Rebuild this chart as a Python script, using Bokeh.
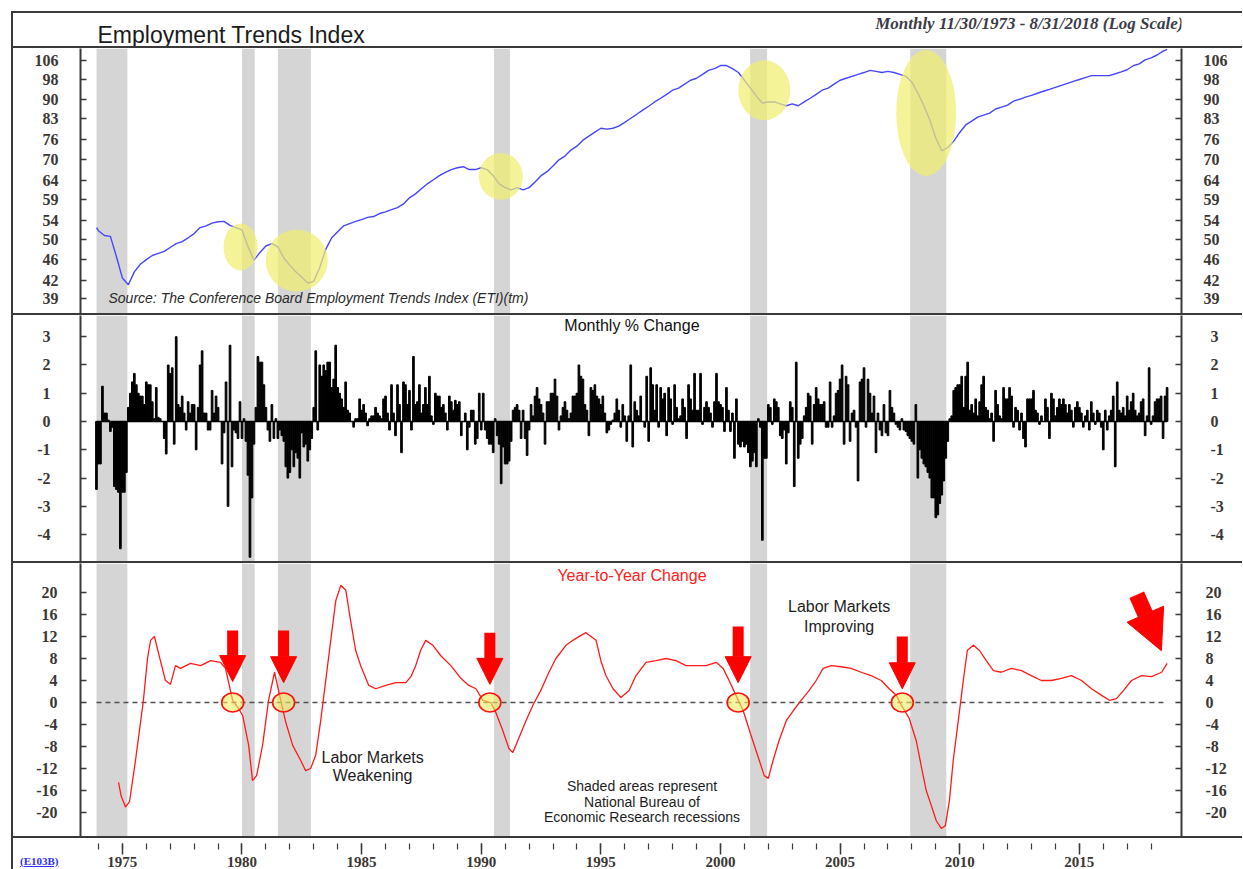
from bokeh.plotting import figure
from bokeh.models import (Range1d, FixedTicker, PrintfTickFormatter, LinearAxis, LogAxis,
                          BoxAnnotation, Label, Arrow, NormalHead, Div, Spacer)
from bokeh.layouts import column, row
from bokeh.embed import file_html
from bokeh.resources import INLINE

# ------------------------------------------------------------------ data
START = 1973 + 11 / 12          # 11/30/1973 (monthly, month-end)

# Monthly % change (Nov 1973 .. Aug 2018)
mchg_1970s = [-2.4, -1.5,
              -1.5, 1.25, 0.3, 0.3, 0.05, -0.35, -0.2, -2.3, -2.4, -2.5, -4.5, -2.5,
              -2.5, -1.8, 0.5, 1.0, 1.4, 1.7, 1.3, 1.0, 0.9, 0.9, 0.6, 1.4,
              1.3, 1.3, 0.7, 0.1, 1.2, 0.15, 0.1, 0.0, -0.6, -1.15, 2.0, 1.7,
              1.9, -0.8, 3.0, 0.6, 0.5, 0.9, 0.3, -0.3, 0.7, 0.3, 0.6, 0.6,
              -1.0, 0.5, 2.0, 2.5, 0.3, 0.3, -0.3, -0.3, 1.1, 0.3, 0.9, 0.5,
              0.0, -1.5, -0.4, 1.4, -3.0, 2.7, -1.6, -0.3, -0.4, -0.6, 0.7, -0.6]
mchg_1980s = [0.1, -0.7, -1.9, -4.8, -2.7, -0.8, 0.5, 2.3, 2.1, 2.1, 1.3, 0.5,
              -0.3, -0.7, 0.6, -0.6, 0.1, -0.6, -0.3, -0.5, -0.7, -1.6, -2.0, -1.8,
              -1.0, -1.6, -1.1, -1.3, -2.0, -0.4, -0.9, -0.8, -1.4, -1.0, -0.6, 0.5,
              2.5, -0.3, 2.0, 1.6, 2.0, 1.8, 2.1, 2.1, 1.2, 1.5, 2.7, 1.2,
              1.0, 0.8, 0.5, 1.4, 0.4, 0.3, 0.0, -0.2, 0.1, 0.1, 0.8, 0.4,
              0.6, 0.3, -0.15, 0.1, 0.2, 0.2, 0.5, 0.3, 0.2, 0.1, 0.8, 0.9,
              0.3, -0.3, 1.3, 0.3, -0.5, 1.3, 0.6, -1.1, 1.4, 1.3, 0.6, 1.1,
              -0.3, 2.3, 0.6, 0.7, 1.3, 0.3, 0.6, 1.2, 0.6, 1.6, 0.2, -0.1,
              1.0, 0.9, 0.9, 0.5, 0.6, 0.3, -0.3, 0.9, 0.7, 0.4, 0.75, 0.6,
              0.7, -0.5, 0.0, 0.3, -1.0, -0.2, 0.4, 0.4, -0.8, -0.6, 1.0, -0.3]
mchg_1990s = [1.0, -0.3, -0.6, -0.8, -0.8, -1.1, 0.1, -0.5, -0.8, -2.2, -0.9, -1.5,
              -1.5, -1.4, -0.7, 0.4, 0.5, 0.6, 0.4, -0.6, 0.4, -0.6, -1.2, -0.3,
              0.6, 0.2, 0.9, 1.2, 0.8, 0.6, 0.3, -0.8, 0.7, 0.7, 1.0, 1.0,
              1.5, 0.9, -0.3, 0.2, 0.5, 0.7, 0.4, 0.1, 0.3, 0.9, 0.9, 1.0,
              2.0, 1.6, 1.5, 0.6, 0.4, -0.5, 1.2, 1.1, 1.3, 0.9, 0.8, 0.6,
              0.9, 0.3, -0.4, -0.3, -0.1, 0.05, 0.3, 0.8, 0.4, -0.2, 0.6, 0.2,
              -0.7, 0.2, 2.0, -0.9, 0.7, 0.4, 0.2, 0.9, 0.0, -0.2, 1.6, -0.7,
              1.9, 1.3, 0.4, 1.3, -0.2, 1.2, 0.8, 1.0, -0.5, 1.2, 0.8, -0.1,
              1.3, 0.5, 0.1, 0.2, 0.8, 0.5, -0.6, 1.3, 0.8, 0.4, 1.7, 0.4,
              0.4, 1.7, -0.1, 0.5, 0.7, 0.5, 0.3, -0.2, 0.7, 1.7, 0.7, 0.6]
mchg_2000s = [0.5, -0.35, 1.2, 0.4, -0.35, 0.3, -1.3, 0.8, -0.8, -0.9, -0.7, -0.9,
              -0.8, -1.1, -1.6, -1.4, -1.1, -1.6, 0.1, -0.2, -4.2, -1.3, -1.3, 0.6,
              0.5, -0.1, 0.8, 0.7, 0.5, -0.5, -0.6, -0.3, -1.5, -0.4, 0.7, 0.5,
              -2.3, 2.1, -1.3, -0.8, -0.6, 0.2, 0.5, 1.0, 0.9, -0.8, 0.6, 1.2,
              0.8, 0.6, 0.6, 0.7, -0.2, -0.2, 1.4, -0.2, 0.2, 1.0, 1.1, 1.5,
              2.0, -0.8, 1.6, 1.3, -0.7, 0.3, 0.4, -0.2, -2.1, 1.4, 1.5, 1.9,
              -0.2, 1.5, 1.0, 0.3, 0.9, -1.1, 0.3, -0.3, -0.5, 0.6, -0.4, -0.5,
              1.1, 0.5, 0.3, -0.1, -0.2, -0.3, 0.1, -0.3, -0.35, -0.5, -0.6, -0.7,
              -0.8, 0.6, -2.0, -1.0, -1.3, -1.5, -1.6, -1.8, -2.0, -2.7, -2.7, -3.4,
              -3.3, -2.9, -2.6, -2.1, -1.3, -0.7, 0.1, 0.2, 1.1, 1.2, 1.3, 1.3]
mchg_2010s = [1.6, 0.5, 1.6, 2.1, 0.4, 0.6, 0.3, 0.8, 0.2, 0.7, 1.3, 1.6,
              0.5, 0.4, 0.1, 0.3, -0.7, 1.1, 0.6, 0.2, 0.1, 1.2, 0.8, 0.8,
              1.2, 0.9, -0.2, 0.5, 0.4, -0.3, 0.3, -0.6, -0.9, 0.8, 0.8, 0.8,
              1.1, 0.4, 0.3, -0.1, 0.2, 0.0, 0.8, 0.5, -0.6, 1.0, 0.8, 0.2,
              0.5, 0.8, 0.6, 0.8, 0.6, 0.3, 0.6, 0.4, -0.2, 0.5, 0.7, 0.5,
              0.3, -0.2, 0.2, 0.4, -0.3, 0.7, 0.3, -0.1, 0.4, 0.3, -0.2, -1.0,
              0.4, -0.3, 0.2, 0.4, 0.9, -1.6, 1.4, 0.4, 0.3, 0.5, 0.2, 0.9,
              0.4, 0.7, 1.0, 0.4, 0.2, 0.3, 0.7, 0.8, -0.5, 0.2, 1.9, -0.1,
              0.2, 0.7, 0.8, 0.8, 0.9, -0.6, 0.9, 1.2]

# Employment Trends Index level (quarterly readings; first point 11/1973, last 8/2018)
eti_1970s = [52.5,
             51.8, 50.8, 50.6, 46.5, 42.5, 41.3, 43.6, 45.0, 45.9, 46.7, 47.1, 47.5,
             48.3, 49.1, 49.5, 50.3, 51.2, 52.5, 52.9, 53.5, 53.8, 53.9, 53.0, 52.5]
eti_1980s = [52.0, 48.5, 45.8, 47.3, 48.6, 49.1, 48.4, 46.2, 44.8, 43.6, 42.6, 41.6,
             41.9, 44.4, 47.9, 50.3, 51.6, 52.9, 53.4, 53.9, 54.3, 54.8, 55.0, 55.7,
             56.1, 56.6, 57.1, 58.0, 59.5, 60.5, 61.8, 63.1, 64.2, 65.3, 66.2, 67.0,
             67.5, 67.8, 67.0, 67.0]
eti_1990s = [67.5, 67.0, 65.3, 63.1, 62.1, 61.5, 62.1, 61.5, 62.1, 63.6, 65.3, 66.4,
             68.0, 69.8, 70.9, 72.7, 73.9, 75.8, 77.1, 78.4, 79.7, 79.4, 79.7, 80.4,
             81.7, 83.1, 84.5, 86.0, 87.4, 89.0, 90.4, 91.9, 93.5, 94.3, 95.9, 97.5,
             98.3, 99.9, 101.6, 102.4]
eti_2000s = [103.7, 103.7, 102.4, 100.7, 97.5, 94.3, 91.2, 88.6, 89.0, 89.0, 88.3, 87.6,
             88.3, 87.6, 89.0, 90.4, 91.9, 93.5, 94.3, 95.9, 97.5, 98.3, 99.1, 99.9,
             100.7, 101.6, 101.2, 100.7, 101.2, 100.7, 99.9, 99.1, 96.7, 92.4, 87.6, 82.5,
             76.5, 72.5, 73.5, 75.5]
eti_2010s = [78.3, 80.8, 82.1, 83.5, 84.2, 84.9, 86.4, 87.1, 87.8, 89.3, 90.0, 90.8,
             91.5, 92.3, 93.1, 93.8, 94.6, 95.4, 96.2, 97.0, 97.8, 98.6, 99.4, 99.4,
             99.4, 99.4, 100.2, 101.0, 101.9, 103.6, 104.4, 106.2, 107.1, 108.4, 110.2,
             111.0]

# Year-to-year % change (date, value) readings
yoy_t_1970s = [1974.84, 1974.95, 1975.13, 1975.30, 1975.55, 1975.88, 1976.05, 1976.18, 1976.34,
               1976.59, 1976.80, 1977.01, 1977.22, 1977.43, 1977.85, 1978.27, 1978.69, 1979.10,
               1979.31, 1979.61, 1979.86]
yoy_v_1970s = [-14.5, -17.0, -19.0, -18.0, -10.5, 0.4, 8.0, 11.3, 12.0,
               7.6, 4.0, 3.3, 6.7, 6.2, 7.1, 6.7, 7.6, 7.3,
               6.2, 0.4, -1.1]
yoy_t_1980s = [1980.03, 1980.28, 1980.44, 1980.61, 1980.86, 1981.11, 1981.36, 1981.62, 1981.83,
               1982.12, 1982.45, 1982.66, 1982.87, 1983.08, 1983.29, 1983.50, 1983.71, 1983.92,
               1984.13, 1984.34, 1984.54, 1984.75, 1984.96, 1985.30, 1985.59, 1986.01, 1986.43,
               1986.85, 1987.06, 1987.26, 1987.47, 1987.68, 1987.98, 1988.31, 1988.73, 1989.15,
               1989.48, 1989.78]
yoy_v_1980s = [-2.4, -7.8, -14.2, -13.3, -7.8, 0.4, 5.5, 0.4, -3.6,
               -7.8, -10.5, -12.4, -12.0, -9.6, -3.3, 4.0, 11.3, 18.5,
               21.3, 20.4, 14.9, 9.5, 6.7, 3.1, 2.5, 3.1, 3.6,
               3.6, 4.7, 6.7, 9.5, 11.3, 10.4, 8.5, 6.7, 4.4,
               3.1, 2.5]
yoy_t_1990s = [1990.07, 1990.40, 1990.61, 1990.90, 1991.16, 1991.32, 1991.57, 1991.87, 1992.16,
               1992.49, 1992.83, 1993.12, 1993.54, 1993.83, 1994.17, 1994.38, 1994.80, 1995.00,
               1995.21, 1995.51, 1995.84, 1996.18, 1996.47, 1996.89, 1997.31, 1997.73, 1998.14,
               1998.56, 1998.98, 1999.40, 1999.82]
yoy_v_1990s = [0.4, 0.0, -1.8, -5.1, -8.4, -9.1, -6.5, -3.3, -0.5,
               2.2, 5.5, 8.0, 10.4, 11.3, 12.2, 12.7, 11.3, 7.6,
               4.9, 2.5, 0.9, 2.2, 4.9, 7.3, 7.6, 8.0, 7.6,
               6.7, 6.7, 6.7, 7.3]
yoy_t_2000s = [2000.11, 2000.36, 2000.65, 2000.95, 2001.28, 2001.62, 2001.83, 2002.00, 2002.20,
               2002.45, 2002.75, 2003.04, 2003.37, 2003.71, 2004.00, 2004.29, 2004.63, 2005.05,
               2005.46, 2005.88, 2006.30, 2006.72, 2007.05, 2007.35, 2007.56, 2007.89, 2008.18,
               2008.39, 2008.60, 2008.81, 2009.02, 2009.23, 2009.40, 2009.57, 2009.73, 2009.94]
yoy_v_2000s = [6.2, 4.0, 1.3, -1.5, -6.0, -10.5, -13.3, -13.8, -10.5,
               -6.9, -3.3, -1.5, 0.4, 2.2, 4.0, 6.2, 6.7, 6.5,
               6.2, 5.5, 4.9, 4.0, 2.5, 1.3, -0.5, -2.9, -6.9,
               -11.5, -16.0, -18.7, -21.5, -22.9, -22.4, -17.8, -10.5, -3.3]
yoy_t_2010s = [2010.15, 2010.32, 2010.57, 2010.82, 2011.11, 2011.41, 2011.74, 2012.16, 2012.58,
               2012.99, 2013.41, 2013.83, 2014.25, 2014.67, 2015.09, 2015.51, 2015.93, 2016.26,
               2016.55, 2016.85, 2017.18, 2017.60, 2018.02, 2018.44, 2018.67]
yoy_v_2010s = [4.0, 9.5, 10.4, 9.5, 7.6, 5.8, 5.5, 6.2, 5.8,
               4.9, 4.0, 4.0, 4.4, 4.9, 4.0, 2.5, 1.3, 0.4,
               0.7, 2.2, 4.0, 4.9, 4.7, 5.5, 7.1]

# NBER recessions
rec_start = [1973.92, 1980.0, 1981.5, 1990.53, 2001.24, 2007.93]
rec_end = [1975.21, 1980.53, 1982.88, 1991.2, 2001.95, 2009.44]

# tick labels
eti_ticks = [39, 42, 46, 50, 54, 59, 64, 70, 76, 83, 90, 98, 106]
chg_ticks = [-4, -3, -2, -1, 0, 1, 2, 3]
yoy_ticks = [-20, -16, -12, -8, -4, 0, 4, 8, 12, 16, 20]
year_ticks = [1975, 1980, 1985, 1990, 1995, 2000, 2005, 2010, 2015]
year_minor = list(range(1974, 2019))

# highlight annotations
hl_x = [1979.94, 1982.29, 1990.82, 2001.83, 2008.6]
hl_y = [48.4, 45.7, 65.1, 93.5, 85.0]
turn_x = [1979.61, 1981.74, 1990.36, 2000.74, 2007.60]
arrow_from = [13.1, 13.1, 12.7, 13.8, 12.0]
arrow_to = [3.8, 3.6, 3.3, 3.6, 2.5]

# ------------------------------------------------------------------ derived
monthly_change = mchg_1970s + mchg_1980s + mchg_1990s + mchg_2000s + mchg_2010s
bar_dates = [START + i / 12 for i in range(len(monthly_change))]
eti_values = eti_1970s + eti_1980s + eti_1990s + eti_2000s + eti_2010s
eti_dates = [1973.92] + [y + q / 4 for y in range(1974, 2019) for q in range(4)
                         if y + q / 4 <= 2018.5] + [2018.67]
n = min(len(eti_dates), len(eti_values))
eti_dates, eti_values = eti_dates[:n], eti_values[:n]
yoy_dates = yoy_t_1970s + yoy_t_1980s + yoy_t_1990s + yoy_t_2000s + yoy_t_2010s
yoy_values = yoy_v_1970s + yoy_v_1980s + yoy_v_1990s + yoy_v_2000s + yoy_v_2010s

# ------------------------------------------------------------------ styling
W = 1229
LEFT_B, RIGHT_B = 67, 61
LINE_COL = "#3a3a3a"
LAB_COL = "#3b3734"
SERIF = "Liberation Serif"
SANS = "Liberation Sans"
xr = Range1d(1973.25, 2019.27)


def plain_fig(height, y_range, y_type="linear", width=W, left=LEFT_B):
    p = figure(width=width, height=height, x_range=xr, y_range=y_range, y_axis_type=y_type,
               x_axis_location=None, y_axis_location=None, title=None,
               toolbar_location=None, output_backend="svg",
               min_border_left=left, min_border_right=RIGHT_B, min_border_top=0,
               min_border_bottom=0)
    for g in p.grid:
        g.visible = False
    p.outline_line_color = None
    p.background_fill_color = "white"
    p.border_fill_color = "white"
    return p


def base_fig(height, y_range, y_type="linear"):
    p = plain_fig(height, y_range, y_type)
    for s, e in zip(rec_start, rec_end):
        p.add_layout(BoxAnnotation(left=s, right=e, fill_color="#d5d5d5", fill_alpha=1.0,
                                   line_color=None, level="underlay"))
    return p


def add_y_axes(p, ticks, log, so_left, so_right):
    cls = LogAxis if log else LinearAxis
    for side, so in (("left", so_left), ("right", so_right)):
        ax = cls(ticker=FixedTicker(ticks=ticks, minor_ticks=[]),
                 formatter=PrintfTickFormatter(format="%d"))
        ax.major_tick_in = 6
        ax.major_tick_out = 0
        ax.minor_tick_line_color = None
        ax.major_tick_line_color = LINE_COL
        ax.major_tick_line_width = 1.5
        ax.axis_line_color = LINE_COL
        ax.axis_line_width = 2
        ax.major_label_standoff = so
        ax.major_label_text_font = SERIF
        ax.major_label_text_font_style = "bold"
        ax.major_label_text_font_size = "16px"
        ax.major_label_text_color = LAB_COL
        p.add_layout(ax, side)


def label(p, x, y, text, size="16px", color="#1e1e1e", style="normal", align="center",
          font=SANS, units="data"):
    p.add_layout(Label(x=x, y=y, x_units=units, y_units=units, text=text,
                       text_font=font, text_font_size=size, text_color=color,
                       text_font_style=style, text_align=align, text_baseline="middle"))


# ---- title row (frame-aligned with the panels below)
tfig = plain_fig(33, Range1d(0, 1))
label(tfig, 17, 12, "Employment Trends Index", size="23px", color="#1b1b1b",
      align="left", units="screen")
label(tfig, 1103, 23, "Monthly 11/30/1973 - 8/31/2018 (Log Scale)", size="17px",
      color="#3c3c48", style="bold italic", align="right", font=SERIF, units="screen")

# ---- top panel : index level (log)
top = base_fig(265, Range1d(36.6, 111.4), y_type="log")
add_y_axes(top, eti_ticks, True, 22, 22)
top.line(eti_dates, eti_values, line_color="#4646ff", line_width=1.4)
top.ellipse(x=hl_x, y=hl_y, width=[34, 62, 44, 52, 60], height=[47, 62, 47, 60, 126],
            width_units="screen", height_units="screen",
            fill_color="#f0ee70", fill_alpha=0.72, line_color=None)
label(top, 1974.42, 39.1, "Source: The Conference Board Employment Trends Index (ETI)(tm)",
      size="14px", color="#2b2b2b", style="italic", align="left")

# ---- middle panel : monthly % change
mid = base_fig(246, Range1d(-4.95, 3.75))
add_y_axes(mid, chg_ticks, False, 30, 29)
mid.vbar(x=bar_dates, top=monthly_change, width=0.07, color="black")
mid.line([bar_dates[0], bar_dates[-1]], [0, 0], line_color="black", line_width=1.5)
label(mid, 1996.3, 3.39, "Monthly % Change", size="16px", color="#111111")

# ---- bottom panel : year-to-year change
bot = base_fig(273, Range1d(-24.36, 25.27))
add_y_axes(bot, yoy_ticks, False, 23, 24)
bot.line([bar_dates[0], bar_dates[-1]], [0, 0], line_color="#505050", line_width=1.4,
         line_dash="5 4")
bot.line(yoy_dates, yoy_values, line_color="#ff1a1a", line_width=1.3)
bot.ellipse(x=turn_x, y=[0] * len(turn_x), width=22, height=19,
            width_units="screen", height_units="screen",
            fill_color="#f2ee60", fill_alpha=0.6, line_color="#ff1010", line_width=1.6)
for x, y0, y1 in zip(turn_x, arrow_from, arrow_to):
    bot.add_layout(Arrow(end=NormalHead(size=26, fill_color="#ff0000", line_color="#ff0000",
                                        line_width=1),
                         x_start=x, y_start=y0, x_end=x, y_end=y1,
                         line_color="#ff0000", line_width=11))
bot.add_layout(Arrow(end=NormalHead(size=40, fill_color="#ff0000", line_color="#ff0000",
                                    line_width=1),
                     x_start=2017.4, y_start=19.6, x_end=2018.43, y_end=9.4,
                     line_color="#ff0000", line_width=16))

label(bot, 1996.3, 23.1, "Year-to-Year Change", size="16px", color="#ff2020")
label(bot, 2004.96, 17.45, "Labor Markets", size="16px")
label(bot, 2004.96, 13.8, "Improving", size="16px")
label(bot, 1985.46, -10.0, "Labor Markets", size="16px")
label(bot, 1985.46, -13.3, "Weakening", size="16px")
label(bot, 1996.72, -15.1, "Shaded areas represent", size="14px")
label(bot, 1996.72, -18.0, "National Bureau of", size="14px")
label(bot, 1996.72, -20.9, "Economic Research recessions", size="14px")

# ---- shared time axis (own strip below the full-width rule)
axfig = plain_fig(31, Range1d(0, 1), width=W - LEFT_B, left=0)
xax = LinearAxis(ticker=FixedTicker(ticks=year_ticks, minor_ticks=year_minor),
                 formatter=PrintfTickFormatter(format="%d"))
xax.major_tick_in = 2
xax.major_tick_out = 9
xax.minor_tick_in = 2
xax.minor_tick_out = 4
xax.major_tick_line_color = LINE_COL
xax.minor_tick_line_color = LINE_COL
xax.major_tick_line_width = 1.5
xax.minor_tick_line_width = 1.2
xax.axis_line_color = None
xax.major_label_standoff = 2
xax.major_label_text_font = SERIF
xax.major_label_text_font_style = "bold"
xax.major_label_text_font_size = "15px"
xax.major_label_text_color = LAB_COL
axfig.add_layout(xax, "below")

code_div = Div(text='<div style="padding:16px 0 0 7px; font-family:\'Liberation Serif\'; '
                    'font-size:11px; font-weight:bold; color:#3030ff; '
                    'text-decoration:underline; white-space:nowrap;">(E103B)</div>',
               width=LEFT_B, height=31, margin=0)
axis_row = row(code_div, axfig, spacing=0)


# ---- assemble with frame lines (page origin is the window's top-left)
def hline():
    return Div(width=W, height=2, margin=0, styles={"background-color": LINE_COL})


left_border = column(Spacer(width=2, height=11, margin=0),
                     Div(width=2, height=858, margin=0, styles={"background-color": LINE_COL}),
                     spacing=0)
main_col = column(Spacer(width=W, height=11, margin=0), hline(), tfig, hline(), top, hline(),
                  mid, hline(), bot, hline(), axis_row, spacing=0)
layout = row(Spacer(width=11, height=10, margin=0), left_border, main_col, spacing=0)

open("out.html", "w").write(file_html(layout, INLINE))
